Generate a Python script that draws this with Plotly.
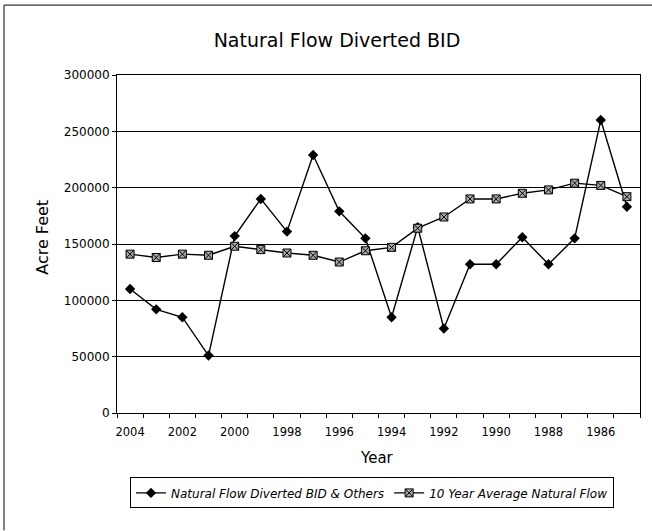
import plotly.graph_objects as go

years = list(range(2004, 1984, -1))
diverted = [110000, 92000, 85000, 51000, 157000, 190000, 161000, 229000, 179000, 155000,
            85000, 165000, 75000, 132000, 132000, 156000, 132000, 155000, 260000, 183000]
avg10 = [141000, 138000, 141000, 140000, 148000, 145000, 142000, 140000, 134000, 144000,
         147000, 164000, 174000, 190000, 190000, 195000, 198000, 204000, 202000, 192000]
xticks = list(range(2004, 1985, -2))
yticks = [0, 50000, 100000, 150000, 200000, 250000, 300000]

W, H = 652, 531
L, R, T, B = 117, 12, 75, 117.5
pw, ph = W - L - R, H - T - B


def px(x):
    return (x - L) / pw


def py(y):
    return (H - B - y) / ph


font = "DejaVu Sans, Verdana, sans-serif"

fig = go.Figure()
fig.add_trace(go.Scatter(
    x=years, y=diverted, mode="lines+markers", name="Natural Flow Diverted BID & Others",
    line=dict(color="black", width=1.4),
    marker=dict(symbol="diamond", size=8, color="black")))
fig.add_trace(go.Scatter(
    x=years, y=avg10, mode="lines+markers", name="10 Year Average Natural Flow",
    line=dict(color="black", width=1.4),
    marker=dict(symbol="square-x", size=8, color="#a8a8a8", line=dict(color="black", width=1))))

fig.update_layout(
    width=W, height=H,
    margin=dict(l=L, r=R, t=T, b=B),
    paper_bgcolor="white", plot_bgcolor="white",
    font=dict(family=font, color="black", size=12),
    title=dict(text="Natural Flow Diverted BID", x=337 / W, xanchor="center", xref="container",
               y=1 - 40 / H, yanchor="middle", font=dict(size=19, family=font)),
    showlegend=True,
    legend=dict(orientation="h", x=px(372), xanchor="center", y=py(478), yanchor="top",
                bordercolor="black", borderwidth=1, bgcolor="white",
                font=dict(size=12, family=font, style="italic"), itemwidth=30),
    xaxis=dict(range=[2004.5, 1984.5], tickmode="array", tickvals=xticks,
               ticks="outside", ticklen=8, tickcolor="rgba(0,0,0,0)",
               showgrid=False, showline=True, linecolor="black", linewidth=1,
               mirror=True, zeroline=False, tickfont=dict(size=11.5),
               minor=dict(tick0=0.5, dtick=1, ticks="outside", ticklen=4,
                          tickcolor="black", showgrid=False)),
    yaxis=dict(range=[0, 300000], tickmode="array", tickvals=yticks, tickformat="d",
               showgrid=True, gridcolor="black", gridwidth=1,
               showline=True, linecolor="black", linewidth=1, mirror=True,
               ticks="outside", ticklen=4, tickcolor="black", zeroline=False,
               tickfont=dict(size=12)),
    annotations=[
        dict(text="Acre Feet", xref="paper", yref="paper", x=px(43), y=py(238),
             textangle=-90, showarrow=False, xanchor="center", yanchor="middle",
             font=dict(size=16, family=font)),
        dict(text="Year", xref="paper", yref="paper", x=px(377), y=py(459),
             showarrow=False, xanchor="center", yanchor="middle",
             font=dict(size=15, family=font)),
    ],
    shapes=[
        dict(type="line", xref="paper", yref="paper", x0=px(4), x1=px(4), y0=py(531), y1=py(5),
             line=dict(color="black", width=1)),
        dict(type="line", xref="paper", yref="paper", x0=px(4), x1=px(652), y0=py(5), y1=py(5),
             line=dict(color="black", width=1)),
    ],
)

fig.write_html("out.html", config={"displayModeBar": False},
               post_script="document.body.style.margin='0px';")
